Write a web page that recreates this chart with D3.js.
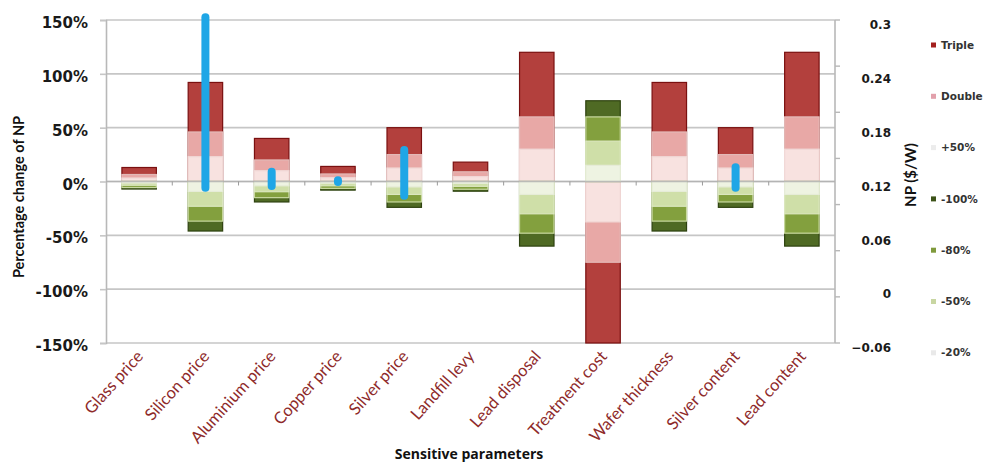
<!DOCTYPE html>
<html>
<head>
<meta charset="utf-8">
<script src="https://cdn.jsdelivr.net/npm/d3@7"></script>
<style>
  html, body { margin: 0; padding: 0; background: #fff; }
  svg { display: block; }
</style>
</head>
<body>
<div id="chart"></div>
<script>
// Sensitivity of net profit (NP) to each parameter under seven change scenarios
const categories = ["Glass price", "Silicon price", "Aluminium price", "Copper price", "Silver price",
  "Landfill levy", "Lead disposal", "Treatment cost", "Wafer thickness", "Silver content", "Lead content"];

// Percentage change of NP for each scenario (bars are overlaid from zero)
const triple   = [13, 92, 40, 14, 50, 18, 120, -150, 92, 50, 120];
const double   = [6.5, 46, 20, 7, 25, 9, 60, -75, 46, 25, 60];
const plus50   = [3.2, 23, 10, 3.5, 12.5, 4.5, 30, -37.5, 23, 12.5, 30];
const minus100 = [-7, -46, -19, -8, -24, -9, -60, 75, -46, -24, -60];
const minus80  = [-5.6, -36.8, -15, -6.4, -19, -7.2, -48, 60, -36.8, -19, -48];
const minus50  = [-3.5, -23, -9.5, -4, -12, -4.5, -30, 37.5, -23, -12, -30];
const minus20  = [-1.4, -9.2, -4, -1.6, -5, -1.8, -12, 15, -9.2, -5, -12];

// NP range ($/W) plotted on the secondary axis
const npCategories = ["Silicon price", "Aluminium price", "Copper price", "Silver price", "Silver content"];
const npLow  = [0.113, 0.115, 0.1195, 0.104, 0.113];
const npHigh = [0.303, 0.131, 0.1215, 0.155, 0.136];

const leftTicks  = [150, 100, 50, 0, -50, -100, -150];
const rightTicks = [0.3, 0.24, 0.18, 0.12, 0.06, 0, -0.06];

const series = [
  { name: "Triple", values: triple,   fill: "#b3403d", stroke: "#7a1010", legend: "#a3201e" },
  { name: "Double", values: double,   fill: "#e8a8a6", stroke: "#e3b9b7", legend: "#e2a0ab" },
  { name: "+50%",   values: plus50,   fill: "#f8e2e0", stroke: "#f1d9d7", legend: "#ececec" },
  { name: "-100%",  values: minus100, fill: "#4f6a24", stroke: "#2e4210", legend: "#3c5218" },
  { name: "-80%",   values: minus80,  fill: "#83a03e", stroke: "#c9d9a0", legend: "#7f9a3c" },
  { name: "-50%",   values: minus50,  fill: "#cfdfa8", stroke: "#dbe7bf", legend: "#c8d6a2" },
  { name: "-20%",   values: minus20,  fill: "#eef3e2", stroke: "#e6ecd8", legend: "#e9e9e9" }
];

const W = 989, H = 466;
const plot = { left: 106, right: 835, top: 20, bottom: 343 };

const svg = d3.select("#chart").append("svg").attr("width", W).attr("height", H);

const x = d3.scaleBand().domain(categories).range([plot.left, plot.right])
  .paddingInner(0.48).paddingOuter(0.24);
const y = d3.scaleLinear().domain([-150, 150]).range([plot.bottom, plot.top]);
const y2 = d3.scaleLinear().domain([-0.06, 0.3]).range([plot.bottom, plot.top]);

// Gridlines
svg.append("g").selectAll("line").data(leftTicks).join("line")
  .attr("x1", plot.left).attr("x2", plot.right)
  .attr("y1", d => y(d)).attr("y2", d => y(d))
  .attr("stroke", "#c6c6c6").attr("stroke-width", 1.6);

// Left axis
const gl = svg.append("g").attr("transform", `translate(${plot.left},0)`)
  .call(d3.axisLeft(y).tickValues(leftTicks).tickFormat(d => d + "%").tickSize(6).tickPadding(12));
gl.select(".domain").attr("stroke", "#b8b8b8").attr("stroke-width", 1.6);
gl.selectAll(".tick line").attr("stroke", "#c6c6c6").attr("stroke-width", 1.6);
gl.selectAll(".tick text").attr("dy", "0.5em")
  .style("font-family", "'DejaVu Sans', sans-serif").style("font-weight", "bold")
  .style("font-size", "15px").attr("fill", "#1a1a1a");

// Right axis: line, tick marks, labels
svg.append("line").attr("x1", plot.right).attr("x2", plot.right)
  .attr("y1", plot.top).attr("y2", plot.bottom).attr("stroke", "#b8b8b8").attr("stroke-width", 1.6);
const rightMarks = d3.range(8).map(i => plot.top + i * (plot.bottom - plot.top) / 7);
svg.append("g").selectAll("line").data(rightMarks).join("line")
  .attr("x1", plot.right).attr("x2", plot.right + 5)
  .attr("y1", d => d).attr("y2", d => d)
  .attr("stroke", "#b8b8b8").attr("stroke-width", 1.4);
svg.append("g").selectAll("text").data(rightTicks).join("text")
  .attr("x", 891).attr("y", d => y2(d) + 5).attr("dy", "0.35em")
  .attr("text-anchor", "end")
  .style("font-family", "'DejaVu Sans', sans-serif").style("font-weight", "bold")
  .style("font-size", "12px").attr("fill", "#1a1a1a")
  .text(d => d3.format("")(+d.toFixed(2)));

// Bars (overlaid, largest first)
const bars = svg.append("g");
series.forEach(s => {
  bars.append("g").selectAll("rect").data(categories).join("rect")
    .attr("x", c => x(c))
    .attr("width", x.bandwidth())
    .attr("y", (c, i) => y(Math.max(0, s.values[i])))
    .attr("height", (c, i) => Math.abs(y(s.values[i]) - y(0)))
    .attr("fill", s.fill)
    .attr("stroke", s.stroke)
    .attr("stroke-width", 1.2);
});

// Category axis along zero with boundary ticks
svg.append("line").attr("x1", plot.left).attr("x2", plot.right)
  .attr("y1", y(0)).attr("y2", y(0)).attr("stroke", "#b0b0b0").attr("stroke-width", 1.3)
  .attr("opacity", 0.8);
const bounds = d3.range(1, categories.length).map(i => x(categories[i]) - x.step() * x.paddingInner() / 2);
svg.append("g").selectAll("line").data(bounds).join("line")
  .attr("x1", d => d).attr("x2", d => d)
  .attr("y1", y(0)).attr("y2", y(0) + 4)
  .attr("stroke", "#9a9a9a").attr("stroke-width", 1);

// NP range lines
svg.append("g").selectAll("line").data(npCategories).join("line")
  .attr("x1", c => x(c) + x.bandwidth() / 2).attr("x2", c => x(c) + x.bandwidth() / 2)
  .attr("y1", (c, i) => y2(npHigh[i])).attr("y2", (c, i) => y2(npLow[i]))
  .attr("stroke", "#1fa6e6").attr("stroke-width", 8).attr("stroke-linecap", "round");

// Category labels
svg.append("g").selectAll("text").data(categories).join("text")
  .attr("transform", c => `translate(${x(c) + x.bandwidth() / 2 + 5},357) rotate(-48)`)
  .attr("text-anchor", "end")
  .style("font-family", "Lato, sans-serif").style("font-size", "16.5px")
  .attr("fill", "#8e2a2a")
  .text(c => c);

// Axis titles
svg.append("text").attr("transform", "translate(24,197) rotate(-90)")
  .attr("text-anchor", "middle")
  .style("font-family", "Lato, sans-serif").style("font-weight", "bold").style("font-size", "14.5px")
  .attr("fill", "#111").text("Percentage change of NP");
svg.append("text").attr("transform", "translate(916,175) rotate(-90)")
  .attr("text-anchor", "middle")
  .style("font-family", "Lato, sans-serif").style("font-weight", "bold").style("font-size", "15px")
  .attr("fill", "#111").text("NP ($/W)");
svg.append("text").attr("x", 469).attr("y", 459).attr("text-anchor", "middle")
  .style("font-family", "'Open Sans', sans-serif").style("font-weight", "bold").style("font-size", "14px")
  .attr("fill", "#111").text("Sensitive parameters");

// Legend
const leg = svg.append("g").selectAll("g").data(series).join("g")
  .attr("transform", (d, i) => `translate(931,${45 + i * 51.3})`);
leg.append("rect").attr("x", 0).attr("y", -2.5).attr("width", 5).attr("height", 5)
  .attr("fill", d => d.legend);
leg.append("text").attr("x", 10).attr("dy", "0.35em")
  .style("font-family", "'DejaVu Sans', sans-serif").style("font-weight", "bold").style("font-size", "10.5px")
  .attr("fill", "#333").text(d => d.name);
</script>
</body>
</html>
